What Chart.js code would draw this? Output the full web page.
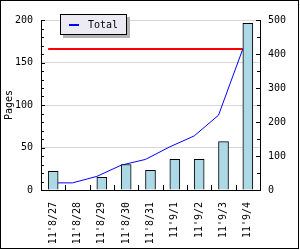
<!DOCTYPE html>
<html>
<head>
<meta charset="utf-8">
<script src="https://cdn.jsdelivr.net/npm/chart.js@4.4.1/dist/chart.umd.min.js"></script>
<style>
  html, body { margin: 0; padding: 0; background: #fff; }
  #wrap { position: relative; width: 300px; height: 250px; }
  #frame { position: absolute; left: 0; top: 0; width: 297px; height: 247px; border: 1px solid #000; pointer-events: none; }
  #legend {
    position: absolute; left: 60px; top: 14px; width: 65px; height: 19px;
    border: 1px solid #000; background: #eceaf2; box-shadow: 3px 3px 0 #b4b4b4;
    font: 10px "DejaVu Sans Mono", monospace; color: #000;
  }
  #legend .key { position: absolute; left: 8px; top: 9px; width: 10px; height: 2px; background: #0000ff; }
  #legend .txt { position: absolute; left: 27px; top: 4px; line-height: 12px; }
</style>
</head>
<body>
<div id="wrap">
  <canvas id="chart" width="300" height="250"></canvas>
  <div id="legend"><span class="key"></span><span class="txt">Total</span></div>
  <div id="frame"></div>
</div>
<script>
// data
const days = ["11'8/27", "11'8/28", "11'8/29", "11'8/30", "11'8/31", "11'9/1", "11'9/2", "11'9/3", "11'9/4"];
const pages = [22, 0, 15, 30, 23, 36, 36, 57, 196];
const total = [21, 21, 40, 73, 90, 127, 159, 220, 415];
const maxLine = [415, 415, 415, 415, 415, 415, 415, 415, 415];

const barWidth = 10;
const font = { family: 'DejaVu Sans Mono', size: 10 };

// the lines sit on the left edge of each bar, so move them half a bar left
const lineShift = {
  id: 'lineShift',
  beforeDatasetDraw(chart, args) {
    if (args.meta.type !== 'line') return;
    chart.ctx.save();
    chart.ctx.translate(-barWidth / 2, 0);
  },
  afterDatasetDraw(chart, args) {
    if (args.meta.type !== 'line') return;
    chart.ctx.restore();
  }
};

// small tick marks drawn inside the plot
const innerTicks = {
  id: 'innerTicks',
  afterDraw(chart) {
    const ctx = chart.ctx;
    const y = chart.scales.y, y1 = chart.scales.y1, x = chart.scales.x;
    ctx.save();
    ctx.strokeStyle = '#000';
    ctx.lineWidth = 1;
    ctx.beginPath();
    y.ticks.forEach(t => {
      const py = Math.round(y.getPixelForValue(t.value)) + 0.5;
      const len = t.value % 50 === 0 ? 4 : 3;
      ctx.moveTo(y.right, py); ctx.lineTo(y.right + len, py);
    });
    y1.ticks.forEach(t => {
      const py = Math.round(y1.getPixelForValue(t.value)) + 0.5;
      const len = t.value % 100 === 0 ? 4 : 3;
      ctx.moveTo(y1.left, py); ctx.lineTo(y1.left - len, py);
    });
    for (let i = 1; i < days.length; i++) {
      const px = Math.round((x.getPixelForValue(i - 1) + x.getPixelForValue(i)) / 2) + 0.5;
      ctx.moveTo(px, x.top); ctx.lineTo(px, x.top - 5);
    }
    ctx.stroke();
    ctx.restore();
  }
};

new Chart(document.getElementById('chart').getContext('2d'), {
  type: 'bar',
  data: {
    labels: days,
    datasets: [
      {
        label: 'Pages',
        data: pages,
        backgroundColor: '#add8e6',
        borderColor: '#000',
        borderWidth: 1,
        barThickness: barWidth,
        yAxisID: 'y',
        order: 0
      },
      {
        type: 'line',
        label: 'Total',
        data: total,
        borderColor: '#0000ff',
        borderWidth: 1,
        pointRadius: 0,
        tension: 0,
        yAxisID: 'y1',
        order: 1
      },
      {
        type: 'line',
        label: 'Max',
        data: maxLine,
        borderColor: '#ff0000',
        borderWidth: 2,
        pointRadius: 0,
        yAxisID: 'y1',
        order: 2
      }
    ]
  },
  options: {
    responsive: false,
    animation: false,
    devicePixelRatio: 1,
    layout: { padding: { top: 20, left: 0, right: 0, bottom: 0 } },
    plugins: { legend: { display: false }, tooltip: { enabled: false } },
    scales: {
      x: {
        grid: { display: false },
        border: { display: true, color: '#000', width: 1 },
        ticks: { color: '#000', font: font, minRotation: 90, maxRotation: 90, padding: 4, autoSkip: false },
        afterFit: s => { s.height = 60; }
      },
      y: {
        position: 'left',
        min: 0,
        max: 200,
        grid: {
          drawTicks: false,
          color: c => (c.tick && c.tick.value % 50 === 0 && c.tick.value > 0) ? '#d6d6d6' : 'rgba(0,0,0,0)'
        },
        border: { display: true, color: '#000', width: 1 },
        ticks: {
          stepSize: 10,
          color: '#000',
          font: font,
          padding: 8,
          autoSkip: false,
          callback: v => v % 50 === 0 ? v : ''
        },
        title: { display: true, text: 'Pages', color: '#000', font: font, padding: { top: 3, bottom: 0 } },
        afterFit: s => { s.width = 41; }
      },
      y1: {
        position: 'right',
        min: 0,
        max: 500,
        grid: { drawOnChartArea: false, drawTicks: false },
        border: { display: true, color: '#000', width: 1 },
        ticks: {
          stepSize: 50,
          color: '#000',
          font: font,
          padding: 8,
          autoSkip: false,
          callback: v => v % 100 === 0 ? v : ''
        },
        afterFit: s => { s.width = 40; }
      }
    }
  },
  plugins: [lineShift, innerTicks]
});
</script>
</body>
</html>
